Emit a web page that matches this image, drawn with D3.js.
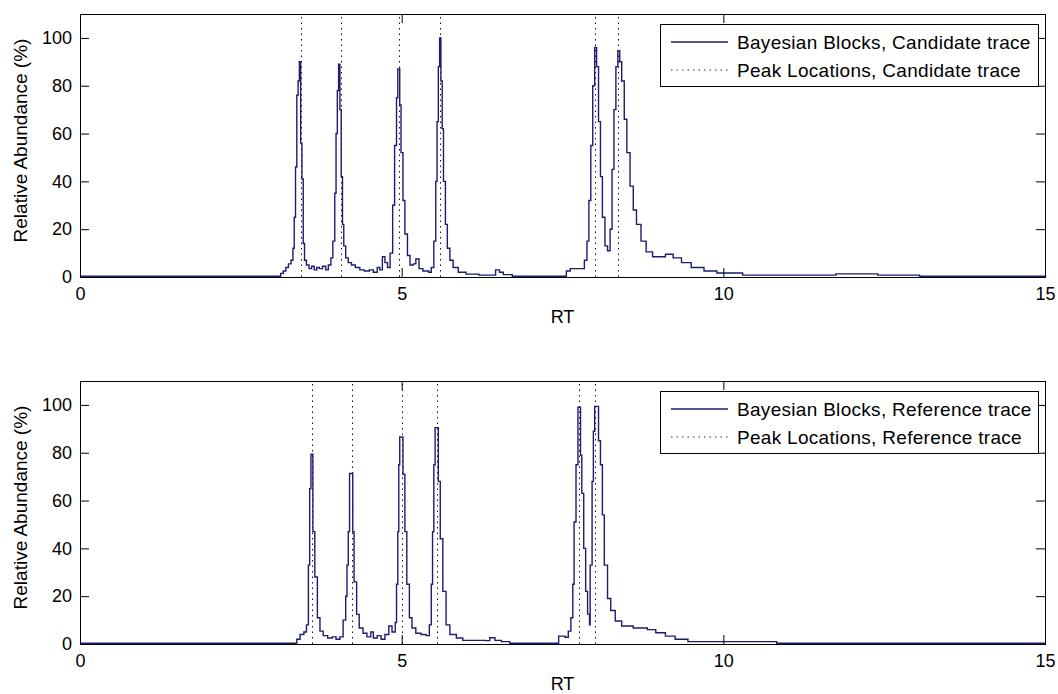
<!DOCTYPE html>
<html>
<head>
<meta charset="utf-8">
<script src="https://cdn.jsdelivr.net/npm/d3@7"></script>
<style>
  html, body { margin: 0; padding: 0; background: #fff; }
  svg { display: block; }
  text { font-family: "Liberation Sans", Arial, sans-serif; fill: #000; }
</style>
</head>
<body>
<svg id="chart" width="1058" height="694"></svg>
<script>
// ---------- data ----------
const xTicks = [0, 5, 10, 15];
const yTicks = [0, 20, 40, 60, 80, 100];

const candidateRT = [0, 3.08, 3.12, 3.16, 3.2, 3.24, 3.28, 3.31, 3.33, 3.35, 3.37, 3.39, 3.41, 3.43, 3.45, 3.47, 3.49, 3.52, 3.56, 3.6, 3.64, 3.68, 3.72, 3.77, 3.82, 3.86, 3.9, 3.93, 3.96, 3.98, 4.0, 4.02, 4.04, 4.06, 4.08, 4.1, 4.13, 4.17, 4.22, 4.28, 4.35, 4.42, 4.5, 4.56, 4.62, 4.66, 4.7, 4.74, 4.78, 4.82, 4.86, 4.89, 4.92, 4.94, 4.97, 4.99, 5.02, 5.05, 5.09, 5.13, 5.18, 5.22, 5.27, 5.33, 5.42, 5.46, 5.5, 5.53, 5.55, 5.57, 5.59, 5.61, 5.63, 5.65, 5.68, 5.71, 5.75, 5.8, 5.88, 6.0, 6.2, 6.42, 6.46, 6.52, 6.58, 6.72, 7.5, 7.56, 7.62, 7.8, 7.84, 7.88, 7.91, 7.94, 7.97, 8.0, 8.03, 8.06, 8.09, 8.12, 8.16, 8.2, 8.24, 8.27, 8.3, 8.33, 8.36, 8.39, 8.42, 8.46, 8.5, 8.55, 8.6, 8.65, 8.72, 8.8, 8.9, 9.1, 9.22, 9.35, 9.5, 9.7, 9.9, 10.3, 11.75, 12.4, 13.05, 15];
const candidateAbundance = [0.3, 0.3, 1.5, 2.5, 4, 5.5, 7, 12, 25, 46, 76, 82, 90, 56, 41, 14, 7, 5, 3.5, 4.5, 3, 4, 3.5, 4.5, 3, 5, 8, 15, 35, 60, 78, 89, 70, 42, 22, 13, 8, 6, 5, 4, 3, 2.5, 3, 2, 4, 3, 8.5, 6, 4, 10, 30, 55, 75, 87, 72, 52, 32, 18, 9, 5, 5.5, 7.5, 3.5, 2.5, 2, 4, 15, 40, 65, 88, 100, 82, 62, 40, 22, 12, 7, 4, 2, 1.2, 0.8, 0.8, 3, 2, 1, 0.3, 0.3, 2.5, 3.5, 3.5, 7, 15, 32, 55, 80, 96, 88, 65, 42, 25, 13, 11, 20, 45, 70, 88, 94.7, 90, 82, 66, 52, 38, 28, 22, 15, 10.5, 8.5, 9.5, 8, 6, 4, 2.5, 1.7, 0.8, 1.3, 0.8, 0.3, 0.3];
const candidatePeaks = [3.43, 4.05, 4.96, 5.6, 8.01, 8.37];

const referenceRT = [0, 3.34, 3.37, 3.42, 3.48, 3.52, 3.55, 3.57, 3.59, 3.62, 3.65, 3.69, 3.73, 3.78, 3.85, 3.92, 3.98, 4.04, 4.09, 4.13, 4.15, 4.17, 4.19, 4.24, 4.26, 4.3, 4.34, 4.4, 4.46, 4.52, 4.56, 4.62, 4.68, 4.74, 4.8, 4.85, 4.9, 4.92, 4.94, 4.955, 4.97, 5.02, 5.05, 5.08, 5.12, 5.16, 5.22, 5.3, 5.38, 5.43, 5.46, 5.48, 5.5, 5.52, 5.57, 5.6, 5.64, 5.69, 5.75, 5.85, 5.95, 6.3, 6.37, 6.45, 6.55, 6.68, 7.4, 7.44, 7.54, 7.59, 7.63, 7.66, 7.68, 7.71, 7.74, 7.78, 7.8, 7.83, 7.86, 7.89, 7.92, 7.93, 7.96, 7.98, 8.0, 8.06, 8.09, 8.12, 8.15, 8.2, 8.25, 8.32, 8.42, 8.6, 8.82, 8.95, 9.1, 9.25, 9.45, 10.83, 15];
const referenceAbundance = [0.3, 0.3, 2, 4, 5, 8, 33, 65, 79.4, 47, 28, 11, 5.4, 3.5, 2.5, 3, 2, 3, 10, 20, 33, 47, 71.3, 47, 26, 12.4, 6.7, 4.5, 3, 5, 2.5, 3.5, 2, 4, 7.5, 5, 9, 25, 47, 75, 86.6, 71, 47, 25, 11, 6.7, 4.5, 4, 3.5, 8, 25, 47, 75, 90.5, 68, 44, 22, 8, 4, 2.5, 1.5, 1.4, 2.6, 1.5, 1, 0.3, 0.3, 3.3, 2.8, 5.4, 11, 25, 51, 75, 99, 79, 63, 40, 22, 12.5, 8, 33, 68, 89, 99.4, 85, 75, 54, 33, 19, 14, 9.6, 7.5, 6.7, 6, 4.7, 3.3, 2, 1, 0.3, 0.3];
const referencePeaks = [3.61, 4.23, 5.0, 5.55, 7.75, 8.01];

const candidateLegend = ["Bayesian Blocks, Candidate trace", "Peak Locations, Candidate trace"];
const referenceLegend = ["Bayesian Blocks, Reference trace", "Peak Locations, Reference trace"];

// ---------- layout ----------
const svg = d3.select("#chart");
svg.append("rect").attr("width", 1058).attr("height", 694).attr("fill", "#fff");

const LINE = "#1c1c72";
const FONT = 18;

function panel(top, rt, vals, peaks, legendLabels) {
  const left = 80, right = 1045, height = 263;
  const bottom = top + height;
  const x = d3.scaleLinear().domain([0, 15]).range([left, right]);
  const y = d3.scaleLinear().domain([0, 110]).range([bottom, top]);
  const g = svg.append("g");

  // peak dotted lines
  g.selectAll("line.peak").data(peaks).join("line")
    .attr("class", "peak")
    .attr("x1", d => Math.round(x(d)) + 0.5).attr("x2", d => Math.round(x(d)) + 0.5)
    .attr("y1", y(0)).attr("y2", y(110))
    .attr("stroke", "#111").attr("stroke-width", 1)
    .attr("stroke-dasharray", "1.5,4");

  // trace
  const pts = rt.map((r, i) => [r, vals[i]]);
  const line = d3.line().x(d => x(d[0])).y(d => y(d[1])).curve(d3.curveStepAfter);
  g.append("path").attr("d", line(pts))
    .attr("fill", "none").attr("stroke", LINE).attr("stroke-width", 1.4);

  // axes with inward ticks
  const ax = g.append("g").attr("transform", `translate(0,${bottom})`)
    .call(d3.axisBottom(x).tickValues(xTicks).tickSizeInner(-9).tickSizeOuter(0).tickPadding(10).tickFormat(d3.format("d")));
  const ay = g.append("g").attr("transform", `translate(${left},0)`)
    .call(d3.axisLeft(y).tickValues(yTicks).tickSizeInner(-9).tickSizeOuter(0).tickPadding(8).tickFormat(d3.format("d")));
  const at = g.append("g").attr("transform", `translate(0,${top})`)
    .call(d3.axisTop(x).tickValues(xTicks).tickSizeInner(-9).tickSizeOuter(0).tickFormat(""));
  const ar = g.append("g").attr("transform", `translate(${right},0)`)
    .call(d3.axisRight(y).tickValues(yTicks).tickSizeInner(-9).tickSizeOuter(0).tickFormat(""));
  [ax, ay, at, ar].forEach(a => {
    a.select(".domain").remove();
    a.selectAll("line").attr("stroke", "#000");
    a.selectAll("text").attr("font-size", FONT).attr("font-family", '"Liberation Sans", Arial, sans-serif').attr("fill", "#000");
  });

  // box
  g.append("rect").attr("x", left + 0.5).attr("y", top + 0.5)
    .attr("width", right - left).attr("height", height)
    .attr("fill", "none").attr("stroke", "#000").attr("stroke-width", 1);

  // labels
  g.append("text").attr("x", (left + right) / 2).attr("y", bottom + 46)
    .attr("text-anchor", "middle").attr("font-size", FONT).text("RT");
  g.append("text")
    .attr("transform", `translate(27,${(top + bottom) / 2 - 5}) rotate(-90)`)
    .attr("text-anchor", "middle").attr("font-size", 19).text("Relative Abundance (%)");

  // legend
  const lx = 660, ly = top + 10, lw = 378, lh = 62;
  const lg = g.append("g");
  lg.append("rect").attr("x", lx + 0.5).attr("y", ly + 0.5).attr("width", lw).attr("height", lh)
    .attr("fill", "#fff").attr("stroke", "#000").attr("stroke-width", 1);
  const rows = [ly + 18, ly + 46];
  lg.append("line").attr("x1", lx + 11).attr("x2", lx + 68).attr("y1", rows[0]).attr("y2", rows[0])
    .attr("stroke", LINE).attr("stroke-width", 1.4);
  lg.append("line").attr("x1", lx + 11).attr("x2", lx + 68).attr("y1", rows[1]).attr("y2", rows[1])
    .attr("stroke", "#333").attr("stroke-width", 1).attr("stroke-dasharray", "1.5,4");
  lg.selectAll("text.leg").data(legendLabels).join("text")
    .attr("class", "leg")
    .attr("x", lx + 77).attr("y", (d, i) => rows[i] + 7)
    .attr("font-size", 19).attr("letter-spacing", "0.3px").text(d => d);
}

panel(14, candidateRT, candidateAbundance, candidatePeaks, candidateLegend);
panel(381, referenceRT, referenceAbundance, referencePeaks, referenceLegend);
</script>
</body>
</html>
